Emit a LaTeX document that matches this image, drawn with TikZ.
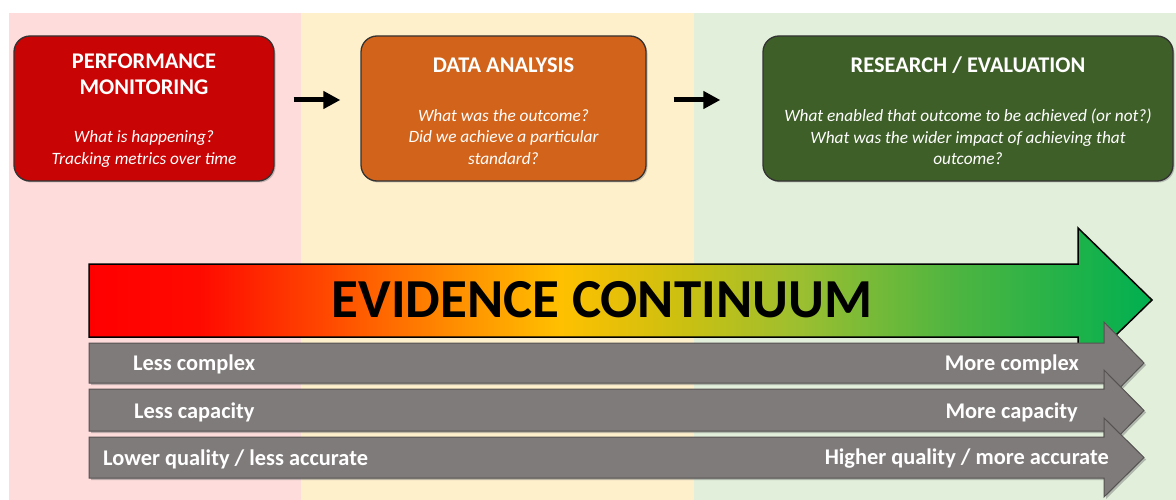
\documentclass[tikz,border=0pt]{standalone}
\usepackage{fontspec}
\setmainfont{Carlito}
\usetikzlibrary{arrows.meta,shadows}
\definecolor{bgPink}{HTML}{FFDCDC}
\definecolor{bgYellow}{HTML}{FFF0CC}
\definecolor{bgGreen}{HTML}{E2EFDA}
\definecolor{boxRed}{HTML}{C80404}
\definecolor{boxOrange}{HTML}{D2631A}
\definecolor{boxGreen}{HTML}{3F5F29}
\definecolor{greyArrow}{HTML}{7F7B7A}
\definecolor{greyEdge}{HTML}{555252}
\definecolor{evA}{HTML}{FF0000}
\definecolor{evB}{HTML}{FF0A00}
\definecolor{evC}{HTML}{FF4A00}
\definecolor{evD}{HTML}{FF8C00}
\definecolor{evE}{HTML}{FFC000}
\definecolor{evF}{HTML}{CCC010}
\definecolor{evG}{HTML}{9CBF30}
\definecolor{evH}{HTML}{50B540}
\definecolor{evI}{HTML}{00B050}
\pgfdeclarehorizontalshading{evid}{100bp}{color(0bp)=(evA); color(25bp)=(evA); color(30.2bp)=(evB); color(36.3bp)=(evC); color(42bp)=(evD); color(47.15bp)=(evE); color(52.8bp)=(evF); color(58.4bp)=(evG); color(65.5bp)=(evH); color(75bp)=(evI); color(100bp)=(evI)}
\tikzset{
  stagebox/.style={rounded corners=16pt, draw=black!80, line width=1.3pt,
    minimum height=145pt, inner sep=0pt,
    drop shadow={shadow xshift=1.5pt, shadow yshift=-1.5pt, opacity=0.45}},
  boxtitle/.style={text=white, font=\fontsize{22.4}{26}\selectfont\bfseries, align=center, inner sep=0pt},
  boxnote/.style={text=white, font=\fontsize{17.3}{21.5}\selectfont\itshape, align=center, inner sep=0pt},
  flowarrow/.style={line width=5pt, -{Triangle[length=17pt,width=17pt]}},
  greyarrow/.style={fill=greyArrow, draw=greyEdge, line width=1pt,
    drop shadow={shadow xshift=2pt, shadow yshift=-2pt, opacity=0.5}},
  greylabel/.style={text=white, font=\fontsize{22.4}{26}\selectfont\bfseries, inner sep=0pt},
}
\begin{document}
\begin{tikzpicture}[x=1pt,y=-1pt]
\useasboundingbox (0,0) rectangle (1176,500);
% background panels
\fill[bgPink] (9,13) rectangle (301,500);
\fill[bgYellow] (301,13) rectangle (694,500);
\fill[bgGreen] (694,13) rectangle (1176,500);
% stage boxes
\node[stagebox, fill=boxRed, minimum width=260pt] (pm) at (144,108.5) {};
\node[stagebox, fill=boxOrange, minimum width=285pt] (da) at (503.5,108.5) {};
\node[stagebox, fill=boxGreen, minimum width=410pt] (re) at (968,108.5) {};
% box texts
\node[boxtitle] (pmt) at (144,74) {PERFORMANCE\\MONITORING};
\node[boxtitle] (dat) at (503.5,65) {DATA ANALYSIS};
\node[boxtitle] (ret) at (968,65) {RESEARCH / EVALUATION};
\node[boxnote] (pmn) at (144,149) {What is happening?\\Tracking metrics over time};
\node[boxnote] (dan) at (503.5,137) {What was the outcome?\\Did we achieve a particular\\standard?};
\node[boxnote] (ren) at (968,137) {What enabled that outcome to be achieved (or not?)\\What was the wider impact of achieving that\\outcome?};
% flow arrows
\draw[flowarrow, shorten <=19pt, shorten >=20pt] (pm.east |- 0,100) -- (da.west |- 0,100);
\draw[flowarrow, shorten <=27pt, shorten >=42pt] (da.east |- 0,100) -- (re.west |- 0,100);
% evidence continuum arrow
\path[shading=evid, draw=black, line width=1.5pt]
  (89,264) -- (1078,264) -- (1078,228) -- (1152,300) -- (1078,372) -- (1078,337) -- (89,337) -- cycle;
\node[font=\fontsize{55}{60}\selectfont\bfseries, text=black, inner sep=0pt] (ev) at (602,300) {EVIDENCE CONTINUUM};
% grey arrows
\path[greyarrow] (89,343) -- (1104,343) -- (1104,322) -- (1144,363) -- (1104,404) -- (1104,383) -- (89,383) -- cycle;
\path[greyarrow] (89,389) -- (1104,389) -- (1104,370) -- (1144,410.5) -- (1104,451) -- (1104,431) -- (89,431) -- cycle;
\path[greyarrow] (89,437) -- (1104,437) -- (1104,418) -- (1144,457.5) -- (1104,497) -- (1104,478) -- (89,478) -- cycle;
\node[greylabel, anchor=west] (l1) at (133,364) {Less complex};
\node[greylabel, anchor=east] (r1) at (1079,364) {More complex};
\node[greylabel, anchor=west] (l2) at (134,412) {Less capacity};
\node[greylabel, anchor=east] (r2) at (1078,412) {More capacity};
\node[greylabel, anchor=west] (l3) at (103,459) {Lower quality / less accurate};
\node[greylabel, anchor=east] (r3) at (1109,459) {Higher quality / more accurate};
\end{tikzpicture}
\end{document}
